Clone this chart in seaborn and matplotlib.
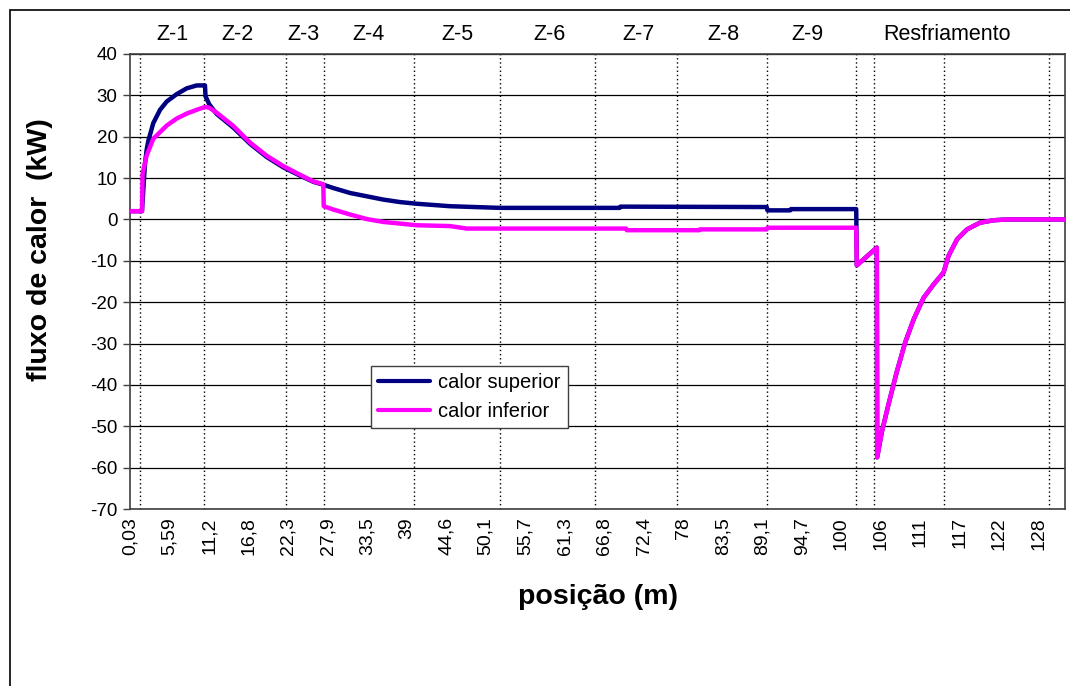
import numpy as np
import pandas as pd
import matplotlib
matplotlib.use("Agg")
import matplotlib.pyplot as plt
import seaborn as sns
from matplotlib.patches import Rectangle
from matplotlib.lines import Line2D

# ---------------- data ----------------
series_names = ["calor superior", "calor inferior"]

# calor superior (heating zones)
sup_pos = [0.03, 1.72, 1.90, 2.14, 2.38, 2.61, 3.31, 4.26, 5.20, 6.61, 8.02, 9.42,
           10.59, 10.66, 11.2, 12.24, 14.58, 16.93, 19.28, 21.62, 23.97, 25.85,
           27.25, 28.66, 31.02, 33.36, 35.71, 38.06, 40.41, 45.10, 52.14, 59.18,
           69.0, 69.1, 89.70, 89.80, 93.0, 93.1, 102.30]
sup_val = [2.0, 2.0, 7.0, 13.5, 16.9, 19.0, 23.3, 26.5, 28.5, 30.3, 31.7, 32.4,
           32.4, 29.8, 27.8, 25.5, 22.2, 18.3, 15.1, 12.6, 10.6, 9.1,
           8.4, 7.6, 6.4, 5.6, 4.8, 4.2, 3.8, 3.2, 2.8, 2.8,
           2.8, 3.1, 3.0, 2.2, 2.2, 2.5, 2.5]

# calor inferior (heating zones)
inf_pos = [0.03, 1.72, 1.80, 2.38, 3.31, 5.20, 6.61, 8.02, 9.42, 10.59, 11.2,
           12.24, 14.58, 16.93, 19.28, 21.62, 23.97, 25.85, 27.25, 27.31, 28.66,
           31.02, 33.36, 35.71, 38.06, 40.41, 45.10, 47.45, 52.14, 69.9, 70.0,
           80.2, 80.3, 89.7, 89.8, 102.30]
inf_val = [2.0, 2.0, 11.0, 15.5, 19.5, 22.7, 24.4, 25.6, 26.5, 27.2, 27.0,
           25.8, 22.6, 18.6, 15.4, 12.9, 10.8, 9.2, 8.5, 3.2, 2.4,
           1.2, 0.1, -0.6, -1.0, -1.4, -1.6, -2.2, -2.2, -2.2, -2.6,
           -2.6, -2.4, -2.4, -2.0, -2.0]

# cooling section (both series coincide here)
cool_pos = [102.38, 105.20, 105.25, 105.9, 106.8, 108.0, 109.2, 110.4, 111.8,
            113.2, 114.6, 115.3, 116.5, 117.9, 119.7, 121.6, 123.5, 131.7]
cool_val = [-11.1, -6.8, -57.5, -51.4, -45.0, -36.9, -29.7, -24.1, -18.9,
            -15.7, -12.8, -8.8, -4.8, -2.4, -0.8, -0.2, 0.0, 0.0]

# zone boundaries (m) and zone names
zone_bounds = [1.44, 10.45, 21.96, 27.31, 40.03, 52.14, 65.52, 77.07, 89.75,
               102.32, 104.86, 114.72, 129.47]
zone_names = ["Z-1", "Z-2", "Z-3", "Z-4", "Z-5", "Z-6", "Z-7", "Z-8", "Z-9",
              "Resfriamento"]
zone_label_pos = [5.95, 15.1, 24.4, 33.6, 46.2, 59.05, 71.6, 83.6, 95.4, 115.1]

x_tick_labels = ["0,03", "5,59", "11,2", "16,8", "22,3", "27,9", "33,5", "39",
                 "44,6", "50,1", "55,7", "61,3", "66,8", "72,4", "78", "83,5",
                 "89,1", "94,7", "100", "106", "111", "117", "122", "128"]
y_ticks = list(range(-70, 41, 10))

colors = {"calor superior": "#000080", "calor inferior": "#FF00FF"}

# ---------------- build long table ----------------
rows = []
for name, px, pv in [("calor superior", sup_pos, sup_val),
                     ("calor inferior", inf_pos, inf_val)]:
    xs = list(px) + list(cool_pos)
    vs = list(pv) + list(cool_val)
    for i, (x, v) in enumerate(zip(xs, vs)):
        rows.append({"serie": name, "pos": x, "val": v, "ord": i})
df = pd.DataFrame(rows)

# ---------------- figure ----------------
sns.set_theme(style="white")
plt.rcParams["font.family"] = ["Liberation Sans", "DejaVu Sans"]
plt.rcParams["text.color"] = "black"
plt.rcParams["axes.labelcolor"] = "black"
plt.rcParams["xtick.color"] = "black"
plt.rcParams["ytick.color"] = "black"

W, H = 1070, 686
fig = plt.figure(figsize=(W / 100, H / 100), dpi=100)
L, R, T, B = 130, 1065, 54, 509
ax = fig.add_axes([L / W, (H - B) / H, (R - L) / W, (B - T) / H])

# outer chart frame
fig.patches.append(Rectangle((10 / W, -0.05), 1.2, (H - 10) / H + 0.05,
                             transform=fig.transFigure, fill=False,
                             edgecolor="#000000", linewidth=1.2, zorder=0))

# grid lines
for yv in y_ticks:
    ax.axhline(yv, color="#000000", linewidth=0.9, zorder=1)
for xb in zone_bounds:
    ax.axvline(xb, color="#000000", linewidth=1.0, linestyle=(0, (1, 2)), zorder=1)

sns.lineplot(data=df, x="pos", y="val", hue="serie", hue_order=series_names,
             palette=colors, estimator=None, sort=False, units="serie",
             linewidth=3.2, ax=ax, legend=False, zorder=3)

ax.set_xlim(0.03, 131.7)
ax.set_ylim(-70, 40)

ax.set_yticks(y_ticks)
ax.set_yticklabels([str(v) for v in y_ticks], fontsize=13.5, color="black")
ax.set_xticks(np.linspace(0.03, 128, len(x_tick_labels)))
ax.set_xticklabels(x_tick_labels, rotation=90, fontsize=14, color="black")
ax.tick_params(axis="y", direction="out", length=5, width=1, color="#404040",
               pad=4, left=True)
ax.tick_params(axis="x", length=0, pad=6)

for s in ax.spines.values():
    s.set_visible(True)
    s.set_color("#404040")
    s.set_linewidth(1.2)

ax.set_xlabel("posição (m)", fontsize=20.5, fontweight="bold", color="black")
ax.set_ylabel("fluxo de calor  (kW)", fontsize=20.5, fontweight="bold",
              color="black")
ax.xaxis.set_label_coords((598 - L) / (R - L), (B - 597) / (B - T))
ax.yaxis.set_label_coords((40 - L) / (R - L), (B - 250) / (B - T))
ax.xaxis.label.set_va("center")
ax.yaxis.label.set_va("center")

# zone labels
trans = ax.get_xaxis_transform()
for name, xp in zip(zone_names, zone_label_pos):
    ax.text(xp, (B - 35) / (B - T), name, transform=trans, ha="center",
            va="center", fontsize=15.5, color="black")

# legend
handles = [Line2D([], [], color=colors[n], linewidth=3) for n in series_names]
leg = ax.legend(handles, series_names, loc="upper left",
                bbox_to_anchor=((371 - L) / (R - L), (B - 366) / (B - T)),
                fontsize=14.5, frameon=True, fancybox=False, framealpha=1,
                edgecolor="#404040", handlelength=2.6, handletextpad=0.4,
                borderpad=0.35, labelspacing=0.5, borderaxespad=0)
for t in leg.get_texts():
    t.set_color("black")
leg.get_frame().set_linewidth(1.0)
leg.set_zorder(5)

fig.savefig("out.png", dpi=100)
